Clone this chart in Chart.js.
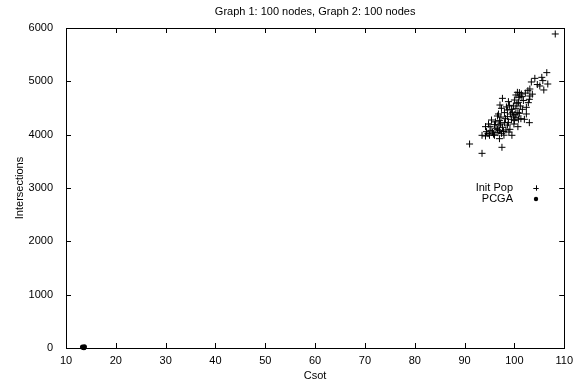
<!DOCTYPE html>
<html>
<head>
<meta charset="utf-8">
<script src="https://cdn.jsdelivr.net/npm/chart.js@4/dist/chart.umd.min.js"></script>
<style>
	body { margin: 0; background: #fff; }
	#wrap { width: 579px; height: 384px; }
</style>
</head>
<body>
<div id="wrap"><canvas id="graph"></canvas></div>
<script>
var titleText = "Graph 1: 100 nodes, Graph 2: 100 nodes";
var xTitle = "Csot";
var yTitle = "Intersections";

// Init Pop : Csot values then Intersections values
var initCsot = [
	108.2, 106.5, 105.5, 104.1, 105.7, 103.4, 106.7, 105.1, 105.9, 103.1,
	102.7, 100.6, 101.0, 101.4, 100.3, 101.1, 101.5, 103.1, 103.0, 97.6,
	100.0, 98.8, 100.8, 97.1, 99.8, 101.2, 102.4, 97.4, 98.6, 99.4,
	100.3, 101.6, 98.0, 100.7, 99.2, 102.4, 96.8, 96.6, 99.8, 98.6,
	100.3, 99.4, 100.8, 102.0, 95.4, 97.0, 100.0, 98.0, 98.8, 103.0,
	94.8, 96.0, 97.2, 94.2, 95.1, 100.7, 97.6, 96.6, 97.0, 98.3,
	94.4, 95.6, 96.7, 97.4, 93.5, 94.2, 95.0, 96.0, 99.5, 97.0,
	91.0, 97.5, 93.5, 99.0, 98.2, 96.3, 97.8, 95.8, 99.6, 100.5,
	101.8, 102.2, 100.9, 97.3, 96.9, 98.6, 99.1, 95.3, 101.0, 102.8,
	104.6, 98.4, 97.9, 96.2, 99.9, 100.1, 101.3, 94.7, 103.6, 98.9
];
var initInter = [
	5888, 5163, 5075, 5056, 5013, 4988, 4950, 4913, 4838, 4856,
	4825, 4794, 4788, 4763, 4744, 4725, 4713, 4725, 4663, 4681,
	4650, 4619, 4606, 4556, 4538, 4538, 4513, 4494, 4463, 4475,
	4494, 4475, 4413, 4413, 4388, 4388, 4388, 4350, 4350, 4338,
	4325, 4288, 4288, 4288, 4275, 4263, 4263, 4225, 4225, 4225,
	4200, 4188, 4200, 4150, 4150, 4150, 4138, 4100, 4075, 4088,
	4056, 4050, 4038, 4025, 3988, 3975, 3988, 3988, 3988, 3925,
	3825, 3763, 3650, 4550, 4300, 4120, 4060, 4010, 4420, 4580,
	4640, 4780, 4700, 4330, 4180, 4180, 4100, 4080, 4400, 4600,
	4940, 4520, 3990, 4240, 4200, 4380, 4300, 4020, 4760, 4050
];

// PCGA
var pcgaCsot = [13.3, 13.5, 13.7, 13.6];
var pcgaInter = [20, 10, 25, 5];

var xTicks = [10, 20, 30, 40, 50, 60, 70, 80, 90, 100, 110];
var yTicks = [0, 1000, 2000, 3000, 4000, 5000, 6000];

function toPoints(xs, ys) {
	var pts = [];
	for (var i = 0; i < xs.length; i++) {
		pts.push({ x: xs[i], y: ys[i] });
	}
	return pts;
}

var fontFam = "'Liberation Sans', Arial, Helvetica, sans-serif";
Chart.defaults.font.family = fontFam;
Chart.defaults.font.size = 11;
Chart.defaults.color = "#000";

// gnuplot style box with inward ticks on all four sides
var framePlugin = {
	id: "frame",
	afterDatasetsDraw: function (chart) {
		var ctx = chart.ctx;
		var a = chart.chartArea;
		var xs = chart.scales.x;
		var ys = chart.scales.y;
		var len = 5;
		ctx.save();
		ctx.strokeStyle = "#000";
		ctx.lineWidth = 1;
		ctx.beginPath();
		xTicks.forEach(function (v) {
			var px = Math.round(xs.getPixelForValue(v)) + 0.5;
			ctx.moveTo(px, a.bottom);
			ctx.lineTo(px, a.bottom - len);
			ctx.moveTo(px, a.top);
			ctx.lineTo(px, a.top + len);
		});
		yTicks.forEach(function (v) {
			var py = Math.round(ys.getPixelForValue(v)) + 0.5;
			ctx.moveTo(a.left, py);
			ctx.lineTo(a.left + len, py);
			ctx.moveTo(a.right, py);
			ctx.lineTo(a.right - len, py);
		});
		ctx.stroke();
		ctx.strokeRect(Math.round(a.left) + 0.5, Math.round(a.top) + 0.5,
			Math.round(a.right - a.left), Math.round(a.bottom - a.top));
		ctx.restore();
	},
	afterDraw: function (chart) {
		// key inside the plot, text right aligned before the symbol
		var ctx = chart.ctx;
		var textX = 513;
		var symX = 536;
		var rowY = [188, 199];
		var r = 2.2;
		ctx.save();
		ctx.font = "11px " + fontFam;
		ctx.textAlign = "right";
		ctx.textBaseline = "middle";
		ctx.fillStyle = "#000";
		ctx.strokeStyle = "#000";
		ctx.lineWidth = 1;
		chart.data.datasets.forEach(function (ds, i) {
			var y = rowY[i];
			ctx.fillText(ds.label, textX, y);
			ctx.beginPath();
			if (ds.pointStyle === "circle") {
				ctx.arc(symX, y, r, 0, Math.PI * 2);
				ctx.fill();
			} else {
				ctx.moveTo(symX - r - 0.5, y + 0.5);
				ctx.lineTo(symX + r + 0.5, y + 0.5);
				ctx.moveTo(symX + 0.5, y - r - 0.5);
				ctx.lineTo(symX + 0.5, y + r + 0.5);
				ctx.stroke();
			}
		});
		ctx.restore();
	}
};

var ctx = document.getElementById("graph").getContext("2d");
new Chart(ctx, {
	type: "scatter",
	data: {
		datasets: [
			{
				label: "Init Pop",
				data: toPoints(initCsot, initInter),
				pointStyle: "cross",
				pointRadius: 3.5,
				borderWidth: 1,
				borderColor: "#000",
				backgroundColor: "#000",
				clip: false
			},
			{
				label: "PCGA",
				data: toPoints(pcgaCsot, pcgaInter),
				pointStyle: "circle",
				pointRadius: 2.5,
				borderWidth: 0,
				borderColor: "#000",
				backgroundColor: "#000",
				clip: false
			}
		]
	},
	options: {
		responsive: true,
		maintainAspectRatio: false,
		animation: false,
		layout: { padding: { left: 0, right: 14, top: 0, bottom: 0 } },
		plugins: {
			legend: { display: false },
			tooltip: { enabled: false },
			title: {
				display: true,
				text: titleText,
				fullSize: false,
				font: { size: 11, weight: "normal" },
				padding: { top: 5, bottom: 9.8 }
			}
		},
		elements: { point: { hoverRadius: 0 } },
		scales: {
			x: {
				type: "linear",
				min: 10,
				max: 110,
				afterFit: function (scale) { scale.height = 36; },
				afterBuildTicks: function (scale) {
					scale.ticks = xTicks.map(function (v) { return { value: v }; });
				},
				grid: { display: false, drawTicks: false },
				border: { display: false },
				ticks: {
					padding: 6,
					maxRotation: 0,
					autoSkip: false,
					callback: function (v) { return String(v); }
				},
				title: { display: true, text: xTitle, padding: { top: 0, bottom: 1.4 } }
			},
			y: {
				type: "linear",
				min: 0,
				max: 6000,
				afterFit: function (scale) { scale.width = 66; },
				afterBuildTicks: function (scale) {
					scale.ticks = yTicks.map(function (v) { return { value: v }; });
				},
				grid: { display: false, drawTicks: false },
				border: { display: false },
				ticks: {
					padding: 13,
					autoSkip: false,
					callback: function (v) { return String(v); }
				},
				title: { display: true, text: yTitle, padding: { top: 13, bottom: 0 } }
			}
		}
	},
	plugins: [framePlugin]
});
</script>
</body>
</html>
